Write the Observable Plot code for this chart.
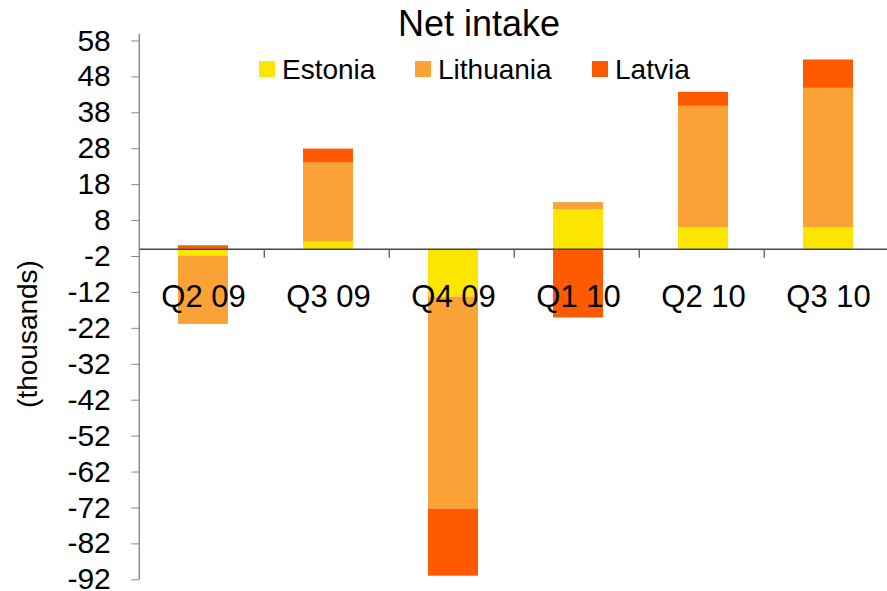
<!DOCTYPE html>
<html>
<head>
<meta charset="utf-8">
<script src="https://cdn.jsdelivr.net/npm/d3@7"></script>
<script src="https://cdn.jsdelivr.net/npm/@observablehq/plot@0.6"></script>
<style>
  html, body { margin: 0; padding: 0; background: #fff; }
  #chart { width: 887px; height: 591px; }
</style>
</head>
<body>
<div id="chart"></div>
<script>
// Quarterly net intake, thousands, by country
const quarters = ["Q2 09", "Q3 09", "Q4 09", "Q1 10", "Q2 10", "Q3 10"];
const countries = ["Estonia", "Lithuania", "Latvia"];
const colors = ["#FCE600", "#FAA236", "#FF5A00"];
const estonia = [-2, 2, -13.3, 11, 6, 6];
const lithuania = [-18.9, 22, -59, 2, 33.8, 38.8];
const latvia = [1, 3.9, -18.7, -19.1, 3.9, 7.9];
const yTicks = [-92, -82, -72, -62, -52, -42, -32, -22, -12, -2, 8, 18, 28, 38, 48, 58];

const series = {Estonia: estonia, Lithuania: lithuania, Latvia: latvia};
const rows = [];
quarters.forEach((q, i) => {
  countries.forEach(c => rows.push({quarter: q, country: c, value: series[c][i]}));
});

const font = "'Liberation Sans', Arial, sans-serif";

const plot = Plot.plot({
  width: 887,
  height: 591,
  marginLeft: 139.3,
  marginRight: 0,
  marginTop: 34,
  marginBottom: 11.7,
  style: {fontFamily: font, background: "#fff", color: "#000"},
  x: {domain: quarters, range: [139.3, 891], paddingInner: 0.6, paddingOuter: 0.3, axis: null},
  y: {domain: [-92, 59.8], axis: null},
  color: {domain: countries, range: colors},
  marks: [
    Plot.barY(rows, {x: "quarter", y: "value", fill: "country"}),
    Plot.ruleY([0], {stroke: "#444", strokeWidth: 1.4}),
    Plot.axisY({
      ticks: yTicks,
      tickSize: 8,
      tickPadding: 21,
      tickFormat: d => String(d),
      fontSize: 30,
      stroke: "#888",
      fill: "#000",
      label: null
    }),
    Plot.text(quarters, {x: d => d, y: 0, dy: 48, text: d => d, fontSize: 31, fill: "#000"})
  ]
});

document.getElementById("chart").appendChild(plot);

const svg = d3.select(plot);
const xs = plot.scale("x");
const ys = plot.scale("y");
const x0 = xs.range[0];
const step = xs.step;
const yZero = ys.apply(0);

// vertical axis line
svg.append("line")
  .attr("x1", x0).attr("x2", x0)
  .attr("y1", ys.apply(ys.domain[1])).attr("y2", ys.apply(ys.domain[0]))
  .attr("stroke", "#888").attr("stroke-width", 1.4);

// category boundary ticks on the zero line
for (let i = 1; i < quarters.length; i++) {
  const bx = x0 + i * step;
  svg.append("line")
    .attr("x1", bx).attr("x2", bx)
    .attr("y1", yZero).attr("y2", yZero + 9)
    .attr("stroke", "#666").attr("stroke-width", 1.4);
}

// title
svg.append("text")
  .attr("x", 479).attr("y", 36)
  .attr("text-anchor", "middle")
  .attr("font-family", font).attr("font-size", 36)
  .attr("fill", "#000")
  .text("Net intake");

// y axis label
svg.append("text")
  .attr("transform", "translate(37,334) rotate(-90)")
  .attr("text-anchor", "middle")
  .attr("font-family", font).attr("font-size", 28)
  .attr("fill", "#000")
  .text("(thousands)");

// legend
const legendX = [259, 415, 592];
const legend = svg.append("g").attr("text-anchor", "start");
countries.forEach((c, i) => {
  legend.append("rect")
    .attr("x", legendX[i]).attr("y", 61)
    .attr("width", 16).attr("height", 16)
    .attr("fill", colors[i]);
  legend.append("text")
    .attr("x", legendX[i] + 23).attr("y", 78.5)
    .attr("text-anchor", "start")
    .attr("font-family", font).attr("font-size", 28)
    .attr("fill", "#000")
    .text(c);
});
</script>
</body>
</html>
